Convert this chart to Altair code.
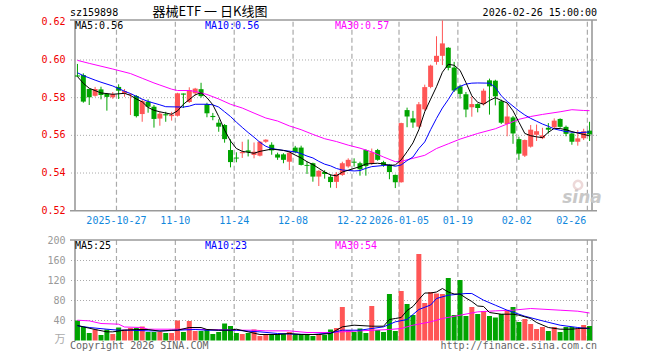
import altair as alt
import pandas as pd

# ---------------- data ----------------
opens = [0.5918, 0.5920, 0.5846, 0.5810, 0.5844, 0.5821, 0.5802, 0.5857, 0.5823, 0.5815,
         0.5809, 0.5713, 0.5779, 0.5752, 0.5689, 0.5712, 0.5702, 0.5704, 0.5822, 0.5777,
         0.5823, 0.5845, 0.5765, 0.5703, 0.5667, 0.5655, 0.5522, 0.5482, 0.5505, 0.5520,
         0.5496, 0.5492, 0.5566, 0.5550, 0.5499, 0.5499, 0.5460, 0.5535, 0.5535, 0.5443,
         0.5452, 0.5381, 0.5405, 0.5380, 0.5353, 0.5390, 0.5435, 0.5460, 0.5452, 0.5522,
         0.5450, 0.5522, 0.5458, 0.5445, 0.5390, 0.5351, 0.5734, 0.5690, 0.5646, 0.5738,
         0.5857, 0.5990, 0.6022, 0.6065, 0.5960, 0.5860, 0.5818, 0.5749, 0.5766, 0.5766,
         0.5892, 0.5890, 0.5781, 0.5660, 0.5695, 0.5580, 0.5492, 0.5540, 0.5603, 0.5585,
         0.5640, 0.5643, 0.5687, 0.5645, 0.5610, 0.5566, 0.5585, 0.5625]
highs = [0.5979, 0.5929, 0.5848, 0.5857, 0.5858, 0.5825, 0.5830, 0.5871, 0.5846, 0.5823,
         0.5814, 0.5791, 0.5791, 0.5761, 0.5725, 0.5725, 0.5725, 0.5826, 0.5822, 0.5855,
         0.5852, 0.5879, 0.5773, 0.5719, 0.5685, 0.5660, 0.5579, 0.5510, 0.5566, 0.5578,
         0.5562, 0.5570, 0.5579, 0.5563, 0.5508, 0.5505, 0.5517, 0.5544, 0.5545, 0.5460,
         0.5455, 0.5415, 0.5415, 0.5393, 0.5405, 0.5460, 0.5478, 0.5478, 0.5460, 0.5526,
         0.5530, 0.5528, 0.5465, 0.5448, 0.5392, 0.5667, 0.5747, 0.5730, 0.5777, 0.5869,
         0.5975, 0.6126, 0.6210, 0.6068, 0.5990, 0.5869, 0.5830, 0.5807, 0.5770, 0.5848,
         0.5901, 0.5895, 0.5790, 0.5770, 0.5703, 0.5593, 0.5578, 0.5655, 0.5657, 0.5640,
         0.5665, 0.5690, 0.5690, 0.5652, 0.5615, 0.5628, 0.5635, 0.5672]
lows = [0.5911, 0.5773, 0.5761, 0.5805, 0.5791, 0.5731, 0.5794, 0.5793, 0.5805, 0.5708,
        0.5695, 0.5672, 0.5720, 0.5641, 0.5651, 0.5672, 0.5678, 0.5700, 0.5745, 0.5772,
        0.5810, 0.5800, 0.5696, 0.5680, 0.5619, 0.5561, 0.5430, 0.5457, 0.5480, 0.5488,
        0.5478, 0.5488, 0.5560, 0.5497, 0.5470, 0.5452, 0.5416, 0.5505, 0.5440, 0.5395,
        0.5354, 0.5331, 0.5370, 0.5322, 0.5320, 0.5385, 0.5428, 0.5434, 0.5386, 0.5386,
        0.5443, 0.5465, 0.5433, 0.5367, 0.5320, 0.5349, 0.5643, 0.5640, 0.5640, 0.5730,
        0.5850, 0.5975, 0.5973, 0.5945, 0.5830, 0.5795, 0.5696, 0.5699, 0.5722, 0.5758,
        0.5710, 0.5759, 0.5660, 0.5595, 0.5555, 0.5470, 0.5485, 0.5535, 0.5570, 0.5580,
        0.5610, 0.5640, 0.5640, 0.5595, 0.5550, 0.5545, 0.5575, 0.5570]
closes = [0.5912, 0.5779, 0.5802, 0.5846, 0.5814, 0.5804, 0.5819, 0.5837, 0.5835, 0.5820,
          0.5702, 0.5782, 0.5752, 0.5687, 0.5715, 0.5706, 0.5710, 0.5823, 0.5816, 0.5840,
          0.5848, 0.5808, 0.5717, 0.5697, 0.5646, 0.5580, 0.5458, 0.5477, 0.5512, 0.5512,
          0.5513, 0.5566, 0.5577, 0.5520, 0.5482, 0.5470, 0.5508, 0.5511, 0.5443, 0.5438,
          0.5381, 0.5412, 0.5395, 0.5352, 0.5395, 0.5452, 0.5470, 0.5455, 0.5420, 0.5437,
          0.5510, 0.5470, 0.5443, 0.5405, 0.5351, 0.5665, 0.5700, 0.5668, 0.5765, 0.5856,
          0.5970, 0.6022, 0.6088, 0.5958, 0.5838, 0.5820, 0.5737, 0.5766, 0.5745, 0.5837,
          0.5860, 0.5807, 0.5667, 0.5700, 0.5610, 0.5503, 0.5575, 0.5630, 0.5622, 0.5600,
          0.5630, 0.5678, 0.5645, 0.5608, 0.5566, 0.5584, 0.5622, 0.5605]
volumes = [40, 27, 15, 22, 11, 22, 13, 26, 22, 25,
           25, 28, 17, 17, 17, 15, 15, 40, 17, 39,
           19, 19, 21, 13, 17, 34, 29, 15, 13, 15,
           22, 9, 12, 13, 13, 13, 17, 13, 13, 13,
           9, 13, 11, 22, 25, 67, 21, 17, 24, 15,
           69, 21, 17, 93, 19, 99, 73, 51, 173, 75,
           97, 94, 93, 125, 51, 121, 49, 67, 53, 59,
           49, 46, 53, 59, 67, 37, 43, 33, 23, 27,
           19, 27, 17, 27, 27, 23, 31, 29]

# moving-average lines (day index, value)
ma5_i = [0, 1, 2, 4, 6, 8, 9, 10, 11, 12, 13, 14, 16, 17, 18, 19, 20, 21, 22, 23,
         24, 25, 26, 27, 28, 30, 31, 33, 35, 36, 37, 38, 39, 40, 41, 42, 43, 44, 45, 46,
         48, 49, 51, 52, 53, 54, 55, 56, 57, 58, 59, 60, 61, 62, 63, 64, 65, 66, 67, 68,
         69, 70, 71, 72, 73, 74, 75, 76, 77, 78, 79, 80, 81, 82, 83, 84, 85, 86, 87]
ma5_v = [0.5912, 0.5876, 0.5850, 0.5825, 0.5818, 0.5823, 0.5812, 0.5793, 0.5778, 0.5748,
         0.5733, 0.5725, 0.5712, 0.5730, 0.5765, 0.5790, 0.5815, 0.5826, 0.5800, 0.5762,
         0.5700, 0.5628, 0.5570, 0.5530, 0.5515, 0.5505, 0.5515, 0.5527, 0.5520, 0.5512,
         0.5495, 0.5480, 0.5460, 0.5445, 0.5425, 0.5405, 0.5390, 0.5385, 0.5405, 0.5415,
         0.5434, 0.5448, 0.5452, 0.5448, 0.5440, 0.5443, 0.5470, 0.5513, 0.5560, 0.5630,
         0.5725, 0.5792, 0.5858, 0.5935, 0.5977, 0.5972, 0.5945, 0.5880, 0.5810, 0.5775,
         0.5765, 0.5785, 0.5800, 0.5785, 0.5772, 0.5730, 0.5670, 0.5610, 0.5598, 0.5592,
         0.5588, 0.5616, 0.5637, 0.5636, 0.5630, 0.5620, 0.5612, 0.5605, 0.5597]
ma10_i = [0, 1, 3, 4, 6, 8, 9, 11, 12, 14, 15, 18, 19, 20, 22, 23, 24, 25, 26, 27,
          28, 29, 30, 31, 32, 33, 35, 37, 38, 39, 40, 41, 42, 43, 44, 45, 47, 48, 49, 50,
          52, 53, 54, 55, 56, 57, 58, 59, 60, 61, 62, 63, 64, 65, 66, 67, 68, 70, 71, 72,
          73, 74, 75, 76, 77, 78, 79, 80, 81, 82, 83, 85, 87]
ma10_v = [0.5932, 0.5917, 0.5893, 0.5882, 0.5862, 0.5834, 0.5822, 0.5792, 0.5780, 0.5762,
          0.5752, 0.5750, 0.5755, 0.5765, 0.5765, 0.5762, 0.5750, 0.5725, 0.5700, 0.5670,
          0.5642, 0.5615, 0.5590, 0.5563, 0.5542, 0.5530, 0.5520, 0.5512, 0.5503, 0.5490,
          0.5480, 0.5462, 0.5447, 0.5438, 0.5424, 0.5416, 0.5411, 0.5413, 0.5425, 0.5434,
          0.5440, 0.5443, 0.5436, 0.5443, 0.5466, 0.5485, 0.5530, 0.5565, 0.5630, 0.5690,
          0.5745, 0.5790, 0.5840, 0.5860, 0.5872, 0.5877, 0.5878, 0.5877, 0.5855, 0.5810,
          0.5780, 0.5755, 0.5730, 0.5708, 0.5690, 0.5675, 0.5660, 0.5648, 0.5634, 0.5627,
          0.5620, 0.5614, 0.5618]
ma30_i = [0, 2, 4, 6, 9, 11, 13, 14, 16, 17, 19, 20, 22, 24, 26, 28, 30, 32, 34, 36,
          38, 40, 42, 44, 46, 48, 50, 52, 54, 55, 57, 59, 61, 63, 65, 68, 71, 73, 75, 77,
          79, 82, 84, 86, 87]
ma30_v = [0.5998, 0.5982, 0.5967, 0.5952, 0.5928, 0.5903, 0.5878, 0.5867, 0.5845, 0.5838,
          0.5838, 0.5833, 0.5817, 0.5793, 0.5765, 0.5745, 0.5718, 0.5692, 0.5676, 0.5650,
          0.5630, 0.5605, 0.5582, 0.5567, 0.5548, 0.5532, 0.5512, 0.5485, 0.5460, 0.5462,
          0.5478, 0.5494, 0.5530, 0.5555, 0.5580, 0.5610, 0.5635, 0.5660, 0.5685, 0.5700,
          0.5711, 0.5725, 0.5736, 0.5732, 0.5731]
vma5_i = [0, 1, 3, 5, 6, 8, 10, 12, 14, 16, 17, 19, 21, 22, 24, 26, 27, 29, 31, 34,
          36, 38, 41, 43, 45, 47, 50, 52, 53, 54, 55, 56, 57, 58, 59, 60, 61, 62, 63, 64,
          65, 66, 67, 68, 69, 70, 72, 74, 75, 77, 78, 80, 82, 84, 85, 87]
vma5_v = [30, 27.3, 22, 17.3, 17.3, 20.6, 22, 22, 18.6, 20.6, 20.6, 26, 26, 22, 20.6, 20.6, 22.6, 17.3, 12, 12,
          14, 12, 12, 14, 27.3, 30.6, 28.6, 28.6, 42, 44, 46, 60, 68, 82, 95, 95, 97, 104, 97, 93,
          93, 85, 78, 69, 68, 56, 52.6, 52.6, 50.6, 44, 36, 26, 22.6, 22.6, 24, 25]
vma10_i = [0, 2, 5, 7, 9, 12, 15, 17, 20, 22, 24, 27, 29, 31, 34, 37, 40, 43, 45, 48,
           52, 54, 56, 58, 60, 61, 63, 66, 67, 69, 71, 73, 76, 79, 82, 85, 87]
vma10_v = [29.3, 26, 22.6, 20.6, 20.6, 19.3, 19.3, 20.6, 22, 20.6, 20.6, 20.6, 18.6, 17.3, 14, 12.6, 12, 15, 20.6, 20.6,
           27.3, 37.3, 42, 62, 71, 84, 90.6, 94, 94, 80.6, 70.6, 60.6, 48.6, 39.3, 30.6, 26, 23.5]
vma30_i = [0, 2, 4, 7, 8, 11, 12, 16, 19, 22, 27, 30, 32, 36, 39, 43, 48, 53, 55, 57,
           60, 62, 65, 68, 71, 74, 77, 82, 85, 87]
vma30_v = [40.6, 39.3, 34, 32.6, 27, 26, 22.6, 22.6, 22.6, 22, 20.6, 20.6, 19.3, 19.3, 16, 16, 19.3, 22, 24, 30.6,
           37.3, 44, 50.6, 57.3, 59.3, 60.6, 64, 60.6, 58.6, 55]

date_tick_idx = [7, 17, 27, 37, 47, 55, 65, 75, 87]
date_tick_lbl = ["2025-10-27", "11-10", "11-24", "12-08", "12-22", "2026-01-05", "01-19", "02-02", "02-26"]
price_ticks = [0.62, 0.60, 0.58, 0.56, 0.54, 0.52]
price_tick_lbl = ["0.62", "0.60", "0.58", "0.56", "0.54", "0.52"]
price_grid = [0.54, 0.56, 0.58, 0.60]
vol_ticks = [200, 160, 120, 80, 40]
vol_tick_lbl = ["200", "160", "120", "80", "40"]
vol_grid = [40, 80, 120, 160]

# ---------------- styling ----------------
RED = "#ff5656"
GREEN = "#00a400"
FRAME = "#9a9a9a"
GRID = "#aaaaaa"
BLUE_TXT = "#1188dd"
MONO = "DejaVu Sans Mono"
X0, X1 = -0.4167, 87.4167
P_LO, P_HI = 0.45084, 0.62122
V_LO, V_HI = -1.0, 641.0
V_TOP = 201

xs = alt.Scale(domain=[X0, X1], nice=False, zero=False)
ps = alt.Scale(domain=[P_LO, P_HI], nice=False, zero=False)
vs = alt.Scale(domain=[V_LO, V_HI], nice=False, zero=False)


def X(f):
    return alt.X(f, scale=xs, axis=None, title=None)


def PY(f):
    return alt.Y(f, scale=ps, axis=None, title=None)


def VY(f):
    return alt.Y(f, scale=vs, axis=None, title=None)


n = len(opens)
df = pd.DataFrame({"i": list(range(n)), "o": opens, "h": highs, "l": lows,
                   "c": closes, "v": volumes})
df["dir"] = ["up" if c >= o else "down" for o, c in zip(opens, closes)]
col = alt.Color("dir:N", scale=alt.Scale(domain=["up", "down"], range=[RED, GREEN]), legend=None)

ticks = pd.DataFrame({"tx": [t - 0.37 for t in date_tick_idx], "t": date_tick_lbl})

layers = []

# gridlines
layers.append(alt.Chart(pd.DataFrame({"p": price_grid})).mark_rule(
    color=GRID, strokeDash=[1, 2], strokeWidth=1).encode(y=PY("p:Q")))
layers.append(alt.Chart(pd.DataFrame({"v": vol_grid})).mark_rule(
    color=GRID, strokeDash=[1, 2], strokeWidth=1).encode(y=VY("v:Q")))
layers.append(alt.Chart(ticks).mark_rule(color=GRID, strokeDash=[5, 3], strokeWidth=1.2).encode(
    x=X("tx:Q"), y=alt.Y(datum=0.52, scale=ps, axis=None), y2=alt.Y2(datum=P_HI)))
layers.append(alt.Chart(ticks).mark_rule(color=GRID, strokeDash=[5, 3], strokeWidth=1.2).encode(
    x=X("tx:Q"), y=alt.Y(datum=V_LO, scale=vs, axis=None), y2=alt.Y2(datum=V_TOP)))

# frames
edges = pd.DataFrame({"x": [X0, X1]})
layers.append(alt.Chart(pd.DataFrame({"p": [P_HI, 0.52]})).mark_rule(
    color=FRAME, strokeWidth=1.6).encode(y=PY("p:Q")))
layers.append(alt.Chart(edges).mark_rule(color=FRAME, strokeWidth=1.6).encode(
    x=X("x:Q"), y=alt.Y(datum=0.52, scale=ps, axis=None), y2=alt.Y2(datum=P_HI)))
layers.append(alt.Chart(pd.DataFrame({"v": [V_TOP]})).mark_rule(
    color=FRAME, strokeWidth=1.6).encode(y=VY("v:Q")))
layers.append(alt.Chart(edges).mark_rule(color=FRAME, strokeWidth=1.6).encode(
    x=X("x:Q"), y=alt.Y(datum=V_LO, scale=vs, axis=None), y2=alt.Y2(datum=V_TOP)))

# volume bars
layers.append(alt.Chart(df).mark_bar(size=5).encode(
    x=X("i:Q"), y=VY("v:Q"), y2=alt.Y2(datum=0), color=col))

# candles
layers.append(alt.Chart(df).mark_rule(strokeWidth=1).encode(
    x=X("i:Q"), y=PY("l:Q"), y2="h:Q", color=col))
layers.append(alt.Chart(df).mark_bar(size=5).encode(
    x=X("i:Q"), y=PY("o:Q"), y2="c:Q", color=col))

# moving averages
for idx, vals, color, which in [
    (ma30_i, ma30_v, "#ff00ff", "p"), (ma10_i, ma10_v, "#0000ff", "p"), (ma5_i, ma5_v, "#000000", "p"),
    (vma30_i, vma30_v, "#ff00ff", "v"), (vma10_i, vma10_v, "#0000ff", "v"), (vma5_i, vma5_v, "#000000", "v"),
]:
    yenc = PY("m:Q") if which == "p" else VY("m:Q")
    layers.append(alt.Chart(pd.DataFrame({"i": idx, "m": vals})).mark_line(
        color=color, strokeWidth=1).encode(x=X("i:Q"), y=yenc))

# axis labels
layers.append(alt.Chart(pd.DataFrame({"p": price_ticks, "t": price_tick_lbl})).mark_text(
    align="right", baseline="middle", font=MONO, fontSize=10, color="#f00000").encode(
    x=alt.value(-4.5), y=PY("p:Q"), text="t:N"))
layers.append(alt.Chart(pd.DataFrame({"v": vol_ticks, "t": vol_tick_lbl})).mark_text(
    align="right", baseline="middle", font=MONO, fontSize=10, color="#999999").encode(
    x=alt.value(-4.5), y=VY("v:Q"), text="t:N"))
layers.append(alt.Chart(ticks.iloc[:-1]).mark_text(
    align="center", baseline="middle", font=MONO, fontSize=10, color=BLUE_TXT).encode(
    x=X("tx:Q"), y=alt.value(201), text="t:N"))
layers.append(alt.Chart(ticks.iloc[-1:]).mark_text(
    align="right", baseline="middle", font=MONO, fontSize=10, color=BLUE_TXT, dx=-1).encode(
    x=X("tx:Q"), y=alt.value(201), text="t:N"))


def label(txt, x, y, color, align="left", font=MONO, size=10, weight="normal", style="normal"):
    return alt.Chart(pd.DataFrame({"t": [txt]})).mark_text(
        align=align, baseline="middle", font=font, fontSize=size, color=color,
        fontWeight=weight, fontStyle=style).encode(x=alt.value(x), y=alt.value(y), text="t:N")


layers += [
    label("sz159898", 0, -7, "#000000"),
    label("器械ETF 一 日K线图", 140, -8, "#000000", align="center", font="Noto Sans CJK SC", size=13),
    label("2026-02-26 15:00:00", 527, -7, "#000000", align="right"),
    label("MA5:0.56", 5, 6, "#000000"),
    label("MA10:0.56", 135, 6, "#0000ff"),
    label("MA30:0.57", 265, 6, "#ff00ff"),
    label("MA5:25", 5, 226, "#000000"),
    label("MA10:23", 135, 226, "#0000ff"),
    label("MA30:54", 265, 226, "#ff00ff"),
    label("万", -4.5, 320, "#aaaaaa", align="right", font="Noto Sans CJK SC", size=11),
    label("Copyright 2026 SINA.COM", 0, 326, "#666666"),
    label("http://finance.sina.com.cn", 527, 326, "#666666", align="right"),
    label("sina", 512, 178, "#c8c8c8", align="center", font="DejaVu Sans", size=17,
          weight="bold", style="italic"),
]
layers.append(alt.Chart(pd.DataFrame({"k": [1]})).mark_point(
    shape="circle", filled=False, size=70, stroke="#e6c9c9", strokeWidth=2.5).encode(
    x=alt.value(508), y=alt.value(165)))

chart = alt.layer(*layers).resolve_scale(y="independent").properties(
    width=527, height=321,
    autosize=alt.AutoSizeParams(type="none"),
    padding={"left": 70, "top": 20, "right": 63, "bottom": 19},
    background="white",
).configure_view(strokeWidth=0)

chart.save("out.html", embed_options={"renderer": "svg", "actions": False})
